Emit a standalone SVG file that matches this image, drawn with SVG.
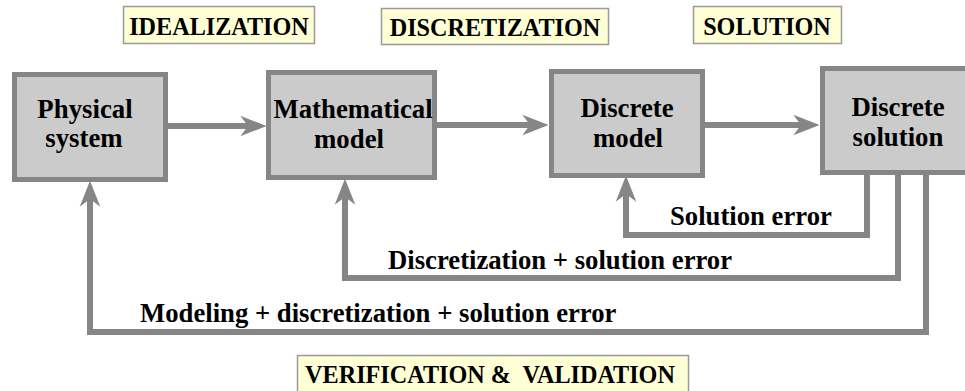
<svg xmlns="http://www.w3.org/2000/svg" width="965" height="391" viewBox="0 0 965 391">
<style>
  .node rect { fill: #cbcbcb; stroke: #868686; stroke-width: 5; }
  .node text { font-family: "Liberation Serif", "Times New Roman", serif; font-weight: bold; font-size: 26.8px; fill: #000; text-anchor: middle; }
  .stage rect { fill: #ffffd6; stroke: #9a9a9a; stroke-width: 1.5; }
  .stage text { font-family: "Liberation Serif", "Times New Roman", serif; font-weight: bold; font-size: 24.2px; fill: #000; text-anchor: middle; white-space: pre; }
  .conn path { fill: none; stroke: #868686; stroke-width: 6; marker-end: url(#ah); }
  .lbl { font-family: "Liberation Serif", "Times New Roman", serif; font-weight: bold; font-size: 26.7px; fill: #000; }
</style>
<defs>
  <marker id="ah" markerUnits="userSpaceOnUse" markerWidth="26" markerHeight="22" viewBox="0 0 24 20" refX="8" refY="10" orient="auto">
    <path d="M0,0.5 L24,10 L0,19.5 L7,10 z" fill="#868686"/>
  </marker>
</defs>

<g id="stage-idealization" class="stage">
  <rect x="123.5" y="6.5" width="191" height="37"/>
  <text x="219" y="35">IDEALIZATION</text>
</g>
<g id="stage-discretization" class="stage">
  <rect x="381.5" y="8.5" width="227" height="36"/>
  <text x="495" y="36">DISCRETIZATION</text>
</g>
<g id="stage-solution" class="stage">
  <rect x="693.5" y="6.5" width="148" height="37"/>
  <text x="767" y="35">SOLUTION</text>
</g>
<g id="stage-vv" class="stage">
  <rect x="297.5" y="355.5" width="391" height="42"/>
  <text x="490" y="383" xml:space="preserve">VERIFICATION &amp;  VALIDATION</text>
</g>

<g id="node-physical" class="node">
  <rect x="14.5" y="74.5" width="151" height="105"/>
  <text x="85" y="118">Physical</text>
  <text x="84" y="147">system</text>
</g>
<g id="node-mathematical" class="node">
  <rect x="268.5" y="72.5" width="166" height="105"/>
  <text x="353" y="118">Mathematical</text>
  <text x="349" y="148">model</text>
</g>
<g id="node-discrete-model" class="node">
  <rect x="551.5" y="71.5" width="151" height="104"/>
  <text x="627" y="117">Discrete</text>
  <text x="628" y="147">model</text>
</g>
<g id="node-discrete-solution" class="node">
  <rect x="822.5" y="68.5" width="160" height="104"/>
  <text x="898" y="116">Discrete</text>
  <text x="898" y="146">solution</text>
</g>

<g id="connectors" class="conn">
  <path d="M168,126 H249"/>
  <path d="M437,125 H531"/>
  <path d="M705,125 H802"/>
  <path d="M867,175 V235 H626 V193"/>
  <path d="M898,175 V278 H345 V196"/>
  <path d="M926,175 V332 H90 V198"/>
</g>

<g id="connector-labels">
  <text class="lbl" x="670" y="225">Solution error</text>
  <text class="lbl" x="388" y="269">Discretization + solution error</text>
  <text class="lbl" x="140" y="322">Modeling + discretization + solution error</text>
</g>
</svg>
